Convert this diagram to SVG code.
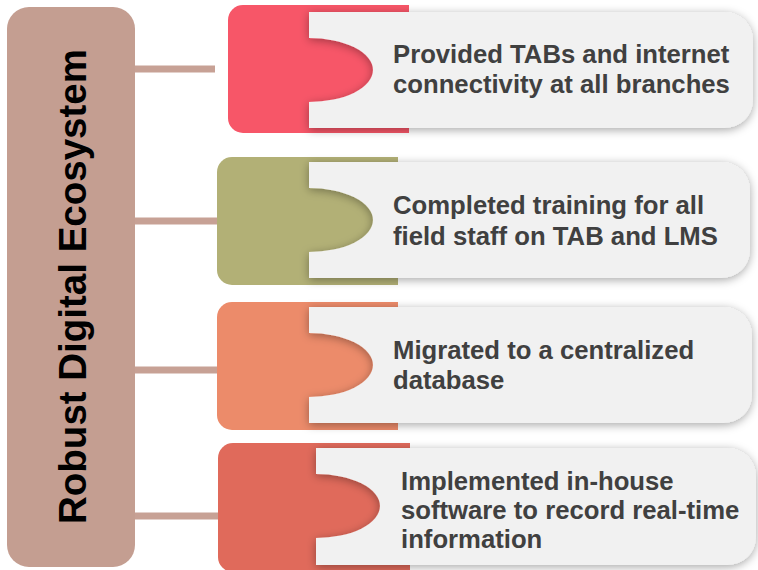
<svg xmlns="http://www.w3.org/2000/svg" width="758" height="570" viewBox="0 0 758 570">
  <defs>
    <filter id="sh" x="-10%" y="-40%" width="120%" height="180%">
      <feDropShadow dx="0" dy="2" stdDeviation="5" flood-color="#000" flood-opacity="0.35"/>
    </filter>
    <style>
      .panel { fill: #F1F1F1; filter: url(#sh); }
      .txt { font-family: "Liberation Sans", Arial, sans-serif; font-weight: bold; font-size: 25.7px; fill: #404040; }
      .conn { stroke: #C7A195; stroke-width: 7; fill: none; }
      .c1 { fill: #F75668; }
      .c2 { fill: #B2B076; }
      .c3 { fill: #EC8B6A; }
      .c4 { fill: #E06A5B; }
    </style>
  </defs>
  <rect width="758" height="570" fill="#FFFFFF"/>

  <g id="connectors">
    <line class="conn" x1="135" y1="69" x2="215" y2="69"/>
    <line class="conn" x1="135" y1="221" x2="218" y2="221"/>
    <line class="conn" x1="135" y1="370" x2="218" y2="370"/>
    <line class="conn" x1="135" y1="516" x2="219" y2="516"/>
  </g>

  <g id="node-root">
    <rect x="7" y="7" width="128" height="560" rx="22" fill="#C49E91"/>
    <text transform="translate(86,286.5) rotate(-90)" text-anchor="middle" font-family="Liberation Sans, Arial, sans-serif" font-weight="bold" font-size="38.5" fill="#000000">Robust Digital Ecosystem</text>
  </g>

  <g id="node-1">
    <path class="c1" d="M243,5 H409 V133 H243 A15,15 0 0 1 228,118 V20 A15,15 0 0 1 243,5 Z"/>
    <path class="panel" d="M309,12 H725 A28,28 0 0 1 753,40 V100 A28,28 0 0 1 725,128 H309 V102 A64,32 0 0 0 309,38 Z"/>
    <text class="txt" x="393" y="63">Provided TABs and internet</text>
    <text class="txt" x="393" y="93">connectivity at all branches</text>
  </g>

  <g id="node-2">
    <path class="c2" d="M232,157 H398 V285 H232 A15,15 0 0 1 217,270 V172 A15,15 0 0 1 232,157 Z"/>
    <path class="panel" d="M309,162 H722 A28,28 0 0 1 750,190 V250 A28,28 0 0 1 722,278 H309 V252 A64,32 0 0 0 309,188 Z"/>
    <text class="txt" x="393" y="214">Completed training for all</text>
    <text class="txt" x="393" y="245">field staff on TAB and LMS</text>
  </g>

  <g id="node-3">
    <path class="c3" d="M232,302 H398 V430 H232 A15,15 0 0 1 217,415 V317 A15,15 0 0 1 232,302 Z"/>
    <path class="panel" d="M309,307 H724 A28,28 0 0 1 752,335 V395 A28,28 0 0 1 724,423 H309 V397 A64,32 0 0 0 309,333 Z"/>
    <text class="txt" x="393" y="359">Migrated to a centralized</text>
    <text class="txt" x="393" y="389">database</text>
  </g>

  <g id="node-4">
    <path class="c4" d="M233,443 H410 V572 H233 A15,15 0 0 1 218,557 V458 A15,15 0 0 1 233,443 Z"/>
    <path class="panel" d="M316,448 H728 A28,28 0 0 1 756,476 V537 A28,28 0 0 1 728,565 H316 V538 A64,32 0 0 0 316,474 Z"/>
    <text class="txt" x="401" y="490">Implemented in-house</text>
    <text class="txt" x="401" y="519">software to record real-time</text>
    <text class="txt" x="401" y="548">information</text>
  </g>
</svg>
